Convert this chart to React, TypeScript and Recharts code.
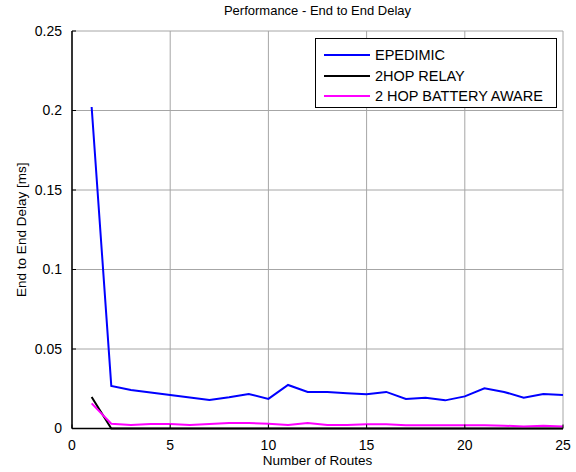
import { CartesianGrid, Legend, Line, LineChart, XAxis, YAxis } from "recharts";

const routes = [1, 2, 3, 4, 5, 6, 7, 8, 9, 10, 11, 12, 13, 14, 15, 16, 17, 18, 19, 20, 21, 22, 23, 24, 25];
const epidemic = [
  0.2022, 0.0268, 0.0242, 0.0226, 0.021, 0.0195, 0.0179, 0.0196, 0.0217, 0.0186, 0.0274, 0.023, 0.023,
  0.0222, 0.0215, 0.023, 0.0186, 0.0194, 0.0177, 0.0202, 0.0253, 0.023, 0.0194, 0.0217, 0.021,
];
const twoHopRelay = [
  0.0198, 0, 0, 0, 0, 0, 0, 0, 0, 0, 0, 0, 0, 0, 0, 0, 0, 0, 0, 0, 0, 0, 0, 0, 0,
];
const twoHopBattery = [
  0.0158, 0.003, 0.0022, 0.0028, 0.0028, 0.0022, 0.0028, 0.0034, 0.0034, 0.003, 0.0022, 0.0034, 0.0022,
  0.0022, 0.0026, 0.0026, 0.002, 0.002, 0.002, 0.002, 0.002, 0.0018, 0.0012, 0.0018, 0.0012,
];
const xTicks = [0, 5, 10, 15, 20, 25];
const yTicks = [0, 0.05, 0.1, 0.15, 0.2, 0.25];

const series = [
  { key: "epidemic", label: "EPEDIMIC", color: "#0000ff" },
  { key: "relay", label: "2HOP RELAY", color: "#000000" },
  { key: "battery", label: "2 HOP BATTERY AWARE", color: "#ff00ff" },
];

const data = routes.map((r, i) => ({
  route: r,
  epidemic: epidemic[i],
  relay: twoHopRelay[i],
  battery: twoHopBattery[i],
}));

const font = "'Liberation Sans', Arial, sans-serif";

function LegendBox() {
  return (
    <div
      style={{
        width: 242,
        height: 70,
        border: "1px solid #000",
        background: "#fff",
        boxSizing: "border-box",
        padding: "6px 0 0 8px",
        fontFamily: font,
        fontSize: 14.5,
      }}
    >
      {series.map((s) => (
        <div key={s.key} style={{ display: "flex", alignItems: "center", height: 20.5 }}>
          <svg width={46} height={4} style={{ marginRight: 5 }}>
            <line x1={0} y1={2} x2={46} y2={2} stroke={s.color} strokeWidth={2} />
          </svg>
          <span>{s.label}</span>
        </div>
      ))}
    </div>
  );
}

export default function App() {
  const tick = { fill: "#000", fontSize: 14, fontFamily: font };
  return (
    <div style={{ position: "absolute", left: 0, top: 0, width: 576, height: 472, background: "#fff" }}>
      <div
        style={{
          position: "absolute",
          left: 72,
          width: 491,
          top: 3,
          textAlign: "center",
          fontFamily: font,
          fontSize: 13,
        }}
      >
        Performance - End to End Delay
      </div>
      <LineChart width={576} height={472} data={data} margin={{ top: 31, right: 13, bottom: 0, left: 0 }}>
        <CartesianGrid stroke="#a6a6a6" strokeWidth={1} />
        <XAxis
          dataKey="route"
          type="number"
          domain={[0, 25]}
          ticks={xTicks}
          allowDataOverflow
          height={43.5}
          tick={tick}
          tickSize={-4}
          tickMargin={16}
          stroke="#000"
          axisLine={{ stroke: "#000", strokeWidth: 1.5 }}
          label={{ value: "Number of Routes", position: "insideBottom", offset: 7, fill: "#000", fontSize: 13.5, fontFamily: font }}
        />
        <XAxis xAxisId="top" orientation="top" dataKey="route" type="number" domain={[0, 25]} ticks={xTicks} height={0} tick={false} tickSize={0} axisLine={{ stroke: "#000", strokeWidth: 1 }} />
        <YAxis
          type="number"
          domain={[0, 0.25]}
          ticks={yTicks}
          width={72}
          tick={tick}
          tickSize={-4}
          tickMargin={14}
          tickFormatter={(v: number) => String(v)}
          stroke="#000"
          axisLine={{ stroke: "#000", strokeWidth: 1.5 }}
          label={{ value: "End to End Delay [ms]", angle: -90, position: "insideLeft", offset: 21, fill: "#000", fontSize: 13.5, fontFamily: font, style: { textAnchor: "middle" } }}
        />
        <YAxis yAxisId="right" orientation="right" type="number" domain={[0, 0.25]} ticks={yTicks} width={0} tick={false} tickSize={0} axisLine={{ stroke: "#000", strokeWidth: 1 }} />
        <Legend
          layout="vertical"
          align="center"
          verticalAlign="middle"
          wrapperStyle={{ top: 38, left: 315, width: 242 }}
          content={() => <LegendBox />}
        />
        {series.map((s) => (
          <Line
            key={s.key}
            type="linear"
            dataKey={s.key}
            name={s.label}
            stroke={s.color}
            strokeWidth={2}
            dot={false}
            activeDot={false}
            isAnimationActive={false}
          />
        ))}
      </LineChart>
    </div>
  );
}
